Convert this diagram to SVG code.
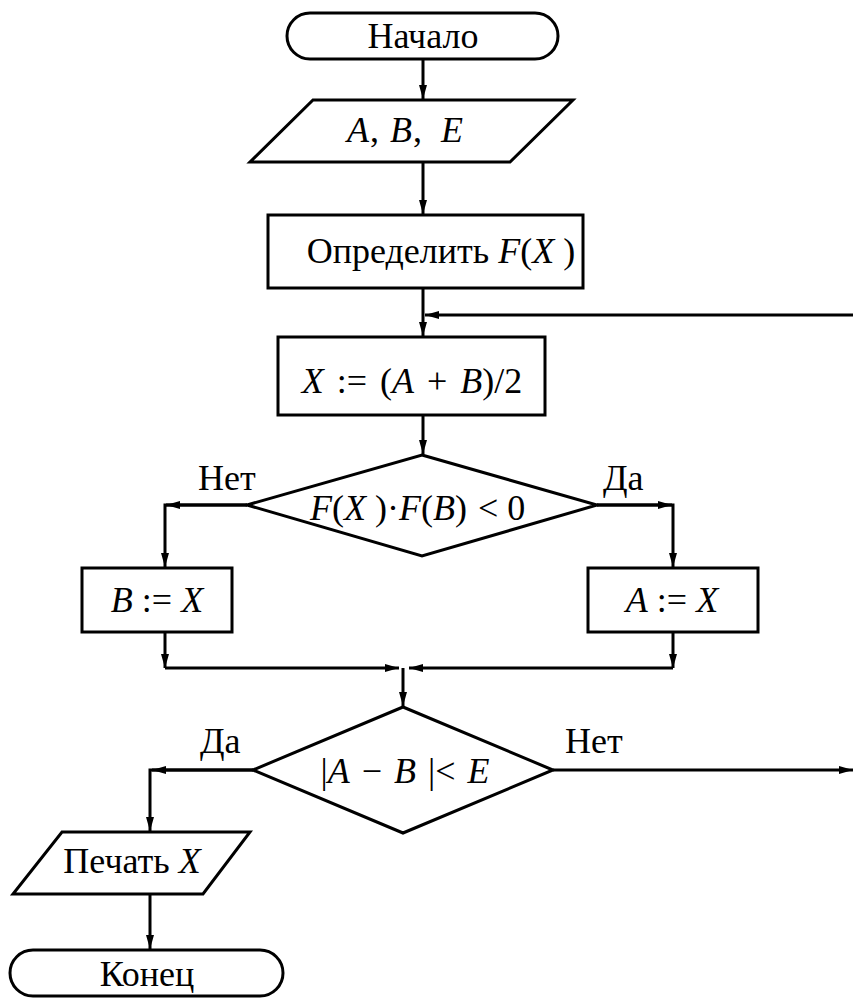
<svg xmlns="http://www.w3.org/2000/svg" width="853" height="998" viewBox="0 0 853 998">
<style>
.s{fill:#fff;stroke:#000;stroke-width:3}
.c{fill:none;stroke:#000;stroke-width:3}
.t{font-family:"Liberation Serif","Times New Roman",serif;font-size:36px;fill:#000}
.i{font-style:italic}
.m{text-anchor:middle}
</style>
<defs>
<marker id="a" viewBox="0 0 14 8" refX="14" refY="4" markerWidth="14" markerHeight="8" markerUnits="userSpaceOnUse" orient="auto">
<path d="M0,0 L14,4 L0,8 Z" fill="#000"/>
</marker>
</defs>
<rect width="853" height="998" fill="#fff"/>
<g id="connectors">
<line class="c" x1="423" y1="59" x2="423" y2="99" marker-end="url(#a)"/>
<line class="c" x1="423" y1="162" x2="423" y2="214" marker-end="url(#a)"/>
<line class="c" x1="423" y1="288" x2="423" y2="336" marker-end="url(#a)"/>
<line class="c" x1="853" y1="315" x2="425" y2="315" marker-end="url(#a)"/>
<line class="c" x1="423" y1="415" x2="423" y2="454" marker-end="url(#a)"/>
<polyline class="c" points="247,505 165,505 165,567" marker-end="url(#a)"/>
<line class="c" x1="247" y1="505" x2="166" y2="505" marker-end="url(#a)"/>
<polyline class="c" points="597,505 673,505 673,567" marker-end="url(#a)"/>
<line class="c" x1="597" y1="505" x2="672" y2="505" marker-end="url(#a)"/>
<line class="c" x1="165" y1="632" x2="165" y2="668" marker-end="url(#a)"/>
<line class="c" x1="165" y1="668" x2="399" y2="668" marker-end="url(#a)"/>
<line class="c" x1="673" y1="632" x2="673" y2="668" marker-end="url(#a)"/>
<line class="c" x1="673" y1="668" x2="409" y2="668" marker-end="url(#a)"/>
<line class="c" x1="403" y1="668" x2="403" y2="706" marker-end="url(#a)"/>
<polyline class="c" points="253,770 150,770 150,831" marker-end="url(#a)"/>
<line class="c" x1="253" y1="770" x2="152" y2="770" marker-end="url(#a)"/>
<line class="c" x1="553" y1="770" x2="853" y2="770" marker-end="url(#a)"/>
<line class="c" x1="150" y1="894" x2="150" y2="949" marker-end="url(#a)"/>
</g>
<g id="start">
<rect class="s" x="287" y="13" width="271" height="46" rx="23"/>
<text class="t m" x="423" y="48">Начало</text>
</g>
<g id="input">
<polygon class="s" points="313,100 573,100 510,162 250,162"/>
<text class="t" y="142"><tspan class="i" x="347">A</tspan><tspan x="370">,</tspan><tspan class="i" x="390">B</tspan><tspan x="413">,</tspan><tspan class="i" x="441">E</tspan></text>
</g>
<g id="define">
<rect class="s" x="268" y="215" width="315" height="73"/>
<text class="t m" x="441" y="263">Определить <tspan class="i">F</tspan>(<tspan class="i">X</tspan> )</text>
</g>
<g id="assign">
<rect class="s" x="278" y="337" width="267" height="78"/>
<text class="t m" x="412" y="393" word-spacing="4"><tspan class="i">X</tspan> := (<tspan class="i">A</tspan> + <tspan class="i">B</tspan>)/2</text>
</g>
<g id="cond1">
<polygon class="s" points="422,455 597,505 422,556 247,505"/>
<text class="t" x="310" y="520"><tspan class="i">F</tspan>(<tspan class="i">X</tspan> )·<tspan class="i">F</tspan>(<tspan class="i">B</tspan>)<tspan x="478">&lt; 0</tspan></text>
<text class="t" x="198" y="490">Нет</text>
<text class="t" x="603" y="490">Да</text>
</g>
<g id="bx">
<rect class="s" x="82" y="568" width="150" height="64"/>
<text class="t m" x="157" y="612"><tspan class="i">B</tspan> := <tspan class="i">X</tspan></text>
</g>
<g id="ax">
<rect class="s" x="588" y="568" width="170" height="64"/>
<text class="t m" x="672" y="612"><tspan class="i">A</tspan> := <tspan class="i">X</tspan></text>
</g>
<g id="cond2">
<polygon class="s" points="403,707 553,770 403,833 253,770"/>
<text class="t m" x="405" y="783" word-spacing="3">|<tspan class="i">A</tspan> − <tspan class="i">B</tspan> |&lt; <tspan class="i">E</tspan></text>
<text class="t" x="200" y="753">Да</text>
<text class="t" x="565" y="753">Нет</text>
</g>
<g id="print">
<polygon class="s" points="62,832 250,832 203,894 13,894"/>
<text class="t m" x="132" y="873">Печать <tspan class="i">X</tspan></text>
</g>
<g id="end">
<rect class="s" x="10" y="950" width="273" height="46" rx="23"/>
<text class="t m" x="147" y="986">Конец</text>
</g>
</svg>
